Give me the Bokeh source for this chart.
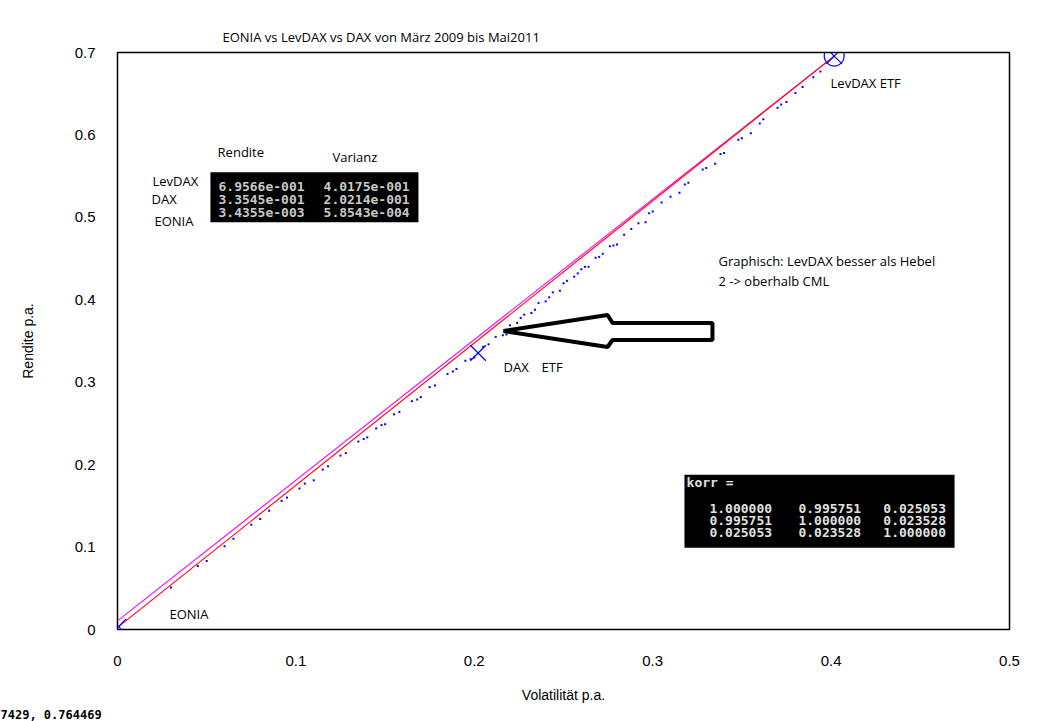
from bokeh.plotting import figure
from bokeh.models import Range1d, FixedTicker, Label, BoxAnnotation, ColumnDataSource, Title
from bokeh.embed import file_html
from bokeh.resources import INLINE

# ---------------- data ----------------
assets = ["LevDAX", "DAX", "EONIA"]
rendite = [0.69566, 0.33545, 0.0034355]
varianz = [0.40175, 0.20214, 0.00058543]

cml_x = [0.0, 0.40175]
cml_y = [0.0105, 0.69566]
red_x = [0.00058543, 0.40175]
red_y = [0.0034355, 0.69566]

blue_x = [0.030, 0.045, 0.060, 0.075, 0.085, 0.095, 0.105, 0.115, 0.125, 0.135,
          0.145, 0.155, 0.165, 0.175, 0.185, 0.195, 0.205, 0.212, 0.220, 0.228,
          0.236, 0.244, 0.252, 0.260, 0.268, 0.276, 0.284, 0.292, 0.300, 0.310,
          0.320, 0.330, 0.340, 0.350, 0.360, 0.370, 0.380, 0.390,
          0.110, 0.140, 0.170, 0.200, 0.218, 0.232, 0.248, 0.264, 0.280, 0.296,
          0.315, 0.335, 0.355, 0.375, 0.150, 0.190, 0.226, 0.242, 0.258, 0.272,
          0.050, 0.065, 0.080, 0.092, 0.102, 0.118, 0.128, 0.138, 0.148, 0.158,
          0.168, 0.178, 0.188, 0.198, 0.208, 0.216, 0.224, 0.234, 0.240, 0.250,
          0.256, 0.262, 0.270, 0.278, 0.288, 0.298, 0.305, 0.318, 0.328, 0.338,
          0.348, 0.362, 0.372, 0.384, 0.394]
blue_y = [0.051, 0.077, 0.101, 0.127, 0.144, 0.160, 0.177, 0.194, 0.211, 0.228,
          0.244, 0.261, 0.277, 0.294, 0.310, 0.326, 0.343, 0.355, 0.369, 0.382,
          0.396, 0.409, 0.423, 0.437, 0.451, 0.465, 0.479, 0.493, 0.507, 0.525,
          0.542, 0.560, 0.578, 0.596, 0.614, 0.633, 0.651, 0.670,
          0.181, 0.233, 0.282, 0.330, 0.358, 0.384, 0.411, 0.440, 0.467, 0.494,
          0.530, 0.565, 0.602, 0.640, 0.249, 0.316, 0.378, 0.403, 0.432, 0.456,
          0.083, 0.110, 0.134, 0.156, 0.171, 0.198, 0.214, 0.231, 0.248, 0.264,
          0.279, 0.296, 0.313, 0.328, 0.346, 0.357, 0.372, 0.388, 0.398, 0.420,
          0.428, 0.440, 0.452, 0.466, 0.486, 0.505, 0.518, 0.540, 0.558, 0.577,
          0.594, 0.619, 0.637, 0.658, 0.677]

x_ticks = [0, 0.1, 0.2, 0.3, 0.4, 0.5]
x_tick_labels = ["0", "0.1", "0.2", "0.3", "0.4", "0.5"]
y_ticks = [0, 0.1, 0.2, 0.3, 0.4, 0.5, 0.6, 0.7]
y_tick_labels = ["0", "0.1", "0.2", "0.3", "0.4", "0.5", "0.6", "0.7"]

korr = [[1.000000, 0.995751, 0.025053],
        [0.995751, 1.000000, 0.023528],
        [0.025053, 0.023528, 1.000000]]

arrow_x = [0.2164, 0.2747, 0.2775, 0.3335, 0.3335, 0.2775, 0.2747]
arrow_y = [0.3621, 0.3815, 0.3718, 0.3718, 0.3512, 0.3512, 0.3427]

status_text = "7429, 0.764469"


def octave_e(v):
    s = "%.4e" % v
    mant, ex = s.split("e")
    sign = ex[0]
    return "%se%s%03d" % (mant, sign, abs(int(ex)))


# ---------------- figure ----------------
p = figure(width=1029, height=721, output_backend="svg", toolbar_location=None,
           x_range=Range1d(0, 0.5), y_range=Range1d(0, 0.7),
           min_border_left=117, min_border_right=20, min_border_top=52,
           min_border_bottom=91)
p.grid.visible = False
p.outline_line_color = "black"
p.outline_line_width = 1.5
p.background_fill_color = "white"
p.border_fill_color = "white"

p.title.text = "EONIA vs LevDAX vs DAX von März 2009 bis Mai2011"
p.title.align = "left"
p.title.offset = 105
p.title.text_font = "Open Sans"
p.title.text_font_size = "13px"
p.title.text_font_style = "normal"
p.title.text_color = "black"
p.title.standoff = 13

for ax, ticks, labels in ((p.xaxis[0], x_ticks, x_tick_labels), (p.yaxis[0], y_ticks, y_tick_labels)):
    ax.ticker = FixedTicker(ticks=ticks)
    ax.major_label_overrides = dict(zip(ticks, labels))
    ax.major_tick_line_color = None
    ax.minor_tick_line_color = None
    ax.axis_line_color = None
    ax.major_label_text_font = "Liberation Sans"
    ax.major_label_text_font_size = "15px"
    ax.major_label_text_color = "black"
    ax.axis_label_text_font = "Liberation Sans"
    ax.axis_label_text_font_size = "14px"
    ax.axis_label_text_font_style = "normal"
    ax.axis_label_text_color = "black"

p.xaxis.axis_label = "Volatilität p.a."
p.yaxis.axis_label = "Rendite p.a."
p.xaxis.major_label_standoff = 20
p.xaxis.axis_label_standoff = 18
p.yaxis.major_label_standoff = 16
p.yaxis.axis_label_standoff = 36

# bottom status text as a "below" title
status = Title(text=status_text, align="left", offset=-117, standoff=0,
               text_font="DejaVu Sans Mono", text_font_size="12px",
               text_font_style="bold", text_color="black")
p.add_layout(status, "below")

# lines
p.line(cml_x, cml_y, line_color="#ff00ff", line_width=1.1)
p.line(red_x, red_y, line_color="#ff0000", line_width=1.1)

# blue portfolio dots
p.scatter(blue_x, blue_y, marker="square", size=2, fill_color="#0000ff", line_color=None)

# markers
src = ColumnDataSource(dict(x=varianz, y=rendite))
p.scatter("x", "y", source=src, marker="x", size=22, line_color="#0000ff", line_width=1.2)
p.scatter([varianz[0]], [rendite[0]], marker="circle", size=20, fill_color=None,
          line_color="#0000ff", line_width=1.2)

# arrow (hollow)
p.patch(arrow_x, arrow_y, fill_color="white", line_color="black", line_width=4)


def lab(x, y, t, size="13px", font="Open Sans", color="black", align="left",
        style="normal", baseline="middle"):
    p.add_layout(Label(x=x, y=y, text=t, text_font=font, text_font_size=size,
                       text_color=color, text_align=align, text_baseline=baseline,
                       text_font_style=style))


lab(0.3997, 0.6625, "LevDAX ETF")
lab(0.2164, 0.3185, "DAX")
lab(0.2377, 0.3185, "ETF")
lab(0.0291, 0.0194, "EONIA")
lab(0.3369, 0.4469, "Graphisch: LevDAX besser als Hebel")
lab(0.3369, 0.4227, "2 -> oberhalb CML")
lab(0.0561, 0.5789, "Rendite")
lab(0.1205, 0.5728, "Varianz")
lab(0.0196, 0.5438, "LevDAX")
lab(0.0191, 0.5220, "DAX")
lab(0.0207, 0.4953, "EONIA")

# black table box
p.add_layout(BoxAnnotation(left=0.0521, right=0.1687, top=0.5547, bottom=0.4941,
                           fill_color="black", fill_alpha=1, line_color=None))
row_y = [0.5377, 0.5220, 0.5062]
for i in range(3):
    lab(0.0566, row_y[i], octave_e(rendite[i]), size="13px", font="DejaVu Sans Mono",
        color="#c8c8c8", style="bold")
    lab(0.1155, row_y[i], octave_e(varianz[i]), size="13px", font="DejaVu Sans Mono",
        color="#c8c8c8", style="bold")

# korr box
p.add_layout(BoxAnnotation(left=0.3178, right=0.4692, top=0.1877, bottom=0.0993,
                           fill_color="black", fill_alpha=1, line_color=None))
lab(0.3190, 0.1780, "korr =", size="13px", font="DejaVu Sans Mono", color="#e0e0e0", style="bold")
kr_y = [0.1465, 0.1320, 0.1175]
kr_x = [0.3318, 0.3817, 0.4293]
for i in range(3):
    for j in range(3):
        lab(kr_x[j], kr_y[i], "%.6f" % korr[i][j], size="13px", font="DejaVu Sans Mono",
            color="#e0e0e0", style="bold")

open("out.html", "w").write(file_html(p, INLINE))
